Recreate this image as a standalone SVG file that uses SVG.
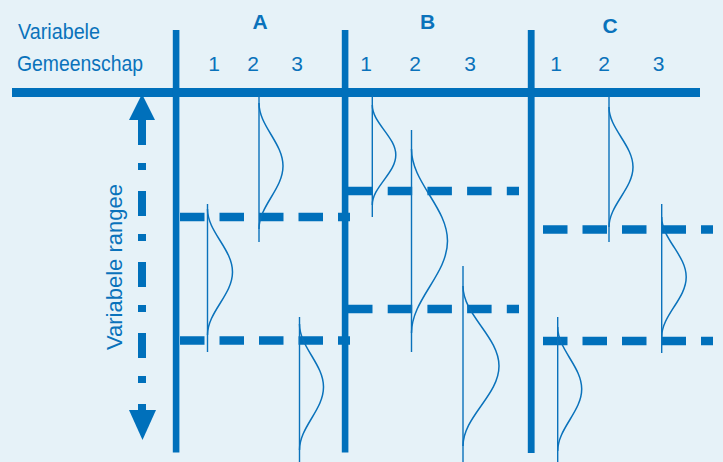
<svg xmlns="http://www.w3.org/2000/svg" width="723" height="462" viewBox="0 0 723 462">
  <style>
    .lbl { font-family: "Liberation Sans", Arial, sans-serif; fill: #0a72bb; }
    .big { font-size: 22px; }
    .head { font-size: 21px; font-weight: bold; text-anchor: middle; }
    .num { font-size: 21px; text-anchor: middle; }
    .bar { fill: #0070bb; }
    .rng { stroke: #0070bb; stroke-width: 8.5; fill: none; stroke-dasharray: 24.5 15; }
    .base { stroke: #0a72bb; stroke-width: 1.4; fill: none; }
    .bell { stroke: #0a72bb; stroke-width: 1.5; fill: none; stroke-linejoin: round; }
  </style>

  <!-- background -->
  <rect x="0" y="0" width="723" height="462" fill="#e6f2f8"/>

  <!-- header texts -->
  <g id="labels">
    <text class="lbl big" x="18" y="38.5" textLength="82" lengthAdjust="spacingAndGlyphs">Variabele</text>
    <text class="lbl big" x="17" y="70.5" textLength="126" lengthAdjust="spacingAndGlyphs">Gemeenschap</text>
    <text class="lbl head" x="260" y="28.5">A</text>
    <text class="lbl head" x="427.5" y="28.5">B</text>
    <text class="lbl head" x="610" y="32.5">C</text>
    <text class="lbl num" x="214" y="70.5">1</text>
    <text class="lbl num" x="253" y="70.5">2</text>
    <text class="lbl num" x="297" y="70.5">3</text>
    <text class="lbl num" x="366" y="70.5">1</text>
    <text class="lbl num" x="415" y="70.5">2</text>
    <text class="lbl num" x="470" y="70.5">3</text>
    <text class="lbl num" x="556" y="70.5">1</text>
    <text class="lbl num" x="604" y="70.5">2</text>
    <text class="lbl num" x="658.5" y="70.5">3</text>
    <text class="lbl" font-size="22" transform="translate(121.5 350) rotate(-90)">Variabele rangee</text>
  </g>

  <!-- frame bars -->
  <g id="grid">
    <rect class="bar" x="12" y="88" width="688" height="9"/>
    <rect class="bar" x="172.8" y="30" width="6.6" height="422.5"/>
    <rect class="bar" x="341.8" y="30" width="6.6" height="422.5"/>
    <rect class="bar" x="527.8" y="30" width="6.8" height="423"/>
  </g>

  <!-- vertical range arrow -->
  <g id="range-arrow">
    <line x1="142" y1="120" x2="142" y2="410" stroke="#0070bb" stroke-width="8" stroke-dasharray="25 18 7 21"/>
    <polygon class="bar" points="142,94 155,120 129,120"/>
    <polygon class="bar" points="129,410 156,410 142.5,440"/>
  </g>

  <!-- dashed range limits -->
  <g id="ranges">
    <line class="rng" x1="180" y1="217" x2="350" y2="217"/>
    <line class="rng" x1="180" y1="340.5" x2="350" y2="340.5"/>
    <line class="rng" x1="348" y1="191" x2="519" y2="191" style="stroke-dasharray:24.5 15.2"/>
    <line class="rng" x1="348" y1="309" x2="519" y2="309" style="stroke-dasharray:24.5 15.2"/>
    <line class="rng" x1="543" y1="229.5" x2="713" y2="229.5"/>
    <line class="rng" x1="543" y1="341" x2="713" y2="341"/>
  </g>

  <!-- distributions per column -->
  <g id="dist-A1">
    <line class="base" x1="207.5" y1="204" x2="207.5" y2="352"/>
    <path class="bell" d="M207.5,209 c0,11.6 6.25,21.5 12.5,31.5 c6.25,10 12.5,19.9 12.5,31.5 c0,11.6 -6.25,21.5 -12.5,31.5 c-6.25,10 -12.5,19.9 -12.5,31.5"/>
  </g>
  <g id="dist-A2">
    <line class="base" x1="259" y1="95" x2="259" y2="242"/>
    <path class="bell" d="M259,103 c0,11.6 6,21.5 12,31.5 c6,10 12,19.9 12,31.5 c0,11.6 -6,21.5 -12,31.5 c-6,10 -12,19.9 -12,31.5"/>
  </g>
  <g id="dist-A3">
    <line class="base" x1="299.5" y1="317" x2="299.5" y2="462"/>
    <path class="bell" d="M299.5,324 c0,11.6 6,21.5 12,31.5 c6,10 12,19.9 12,31.5 c0,11.6 -6,21.5 -12,31.5 c-6,10 -12,19.9 -12,31.5"/>
  </g>
  <g id="dist-B1">
    <line class="base" x1="372.3" y1="95" x2="372.3" y2="217"/>
    <path class="bell" d="M372.3,105 c0,9.2 5.9,17 11.75,25 c5.9,8 11.75,15.8 11.75,25 c0,9.2 -5.9,17 -11.75,25 c-5.9,8 -11.75,15.8 -11.75,25"/>
  </g>
  <g id="dist-B2">
    <line class="base" x1="411.5" y1="130" x2="411.5" y2="352"/>
    <path class="bell" d="M411.5,149 c0,16.9 9,31.4 18,46 c9,14.6 18,29.1 18,46 c0,16.9 -9,31.4 -18,46 c-9,14.6 -18,29.1 -18,46"/>
  </g>
  <g id="dist-B3">
    <line class="base" x1="463" y1="266" x2="463" y2="462"/>
    <path class="bell" d="M463,286 c0,14.7 9,27.3 18,40 c9,12.7 18,25.3 18,40 c0,14.7 -9,27.3 -18,40 c-9,12.7 -18,25.3 -18,40"/>
  </g>
  <g id="dist-C1">
    <line class="base" x1="557.7" y1="317" x2="557.7" y2="462"/>
    <path class="bell" d="M557.7,327 c0,11.4 6,21.1 12,31 c6,9.9 12,19.6 12,31 c0,11.4 -6,21.1 -12,31 c-6,9.9 -12,19.6 -12,31"/>
  </g>
  <g id="dist-C2">
    <line class="base" x1="609" y1="96" x2="609" y2="242"/>
    <path class="bell" d="M609,107 c0,11 6,20.5 12,30 c6,9.5 12,19 12,30 c0,11 -6,20.5 -12,30 c-6,9.5 -12,19 -12,30"/>
  </g>
  <g id="dist-C3">
    <line class="base" x1="661.7" y1="204" x2="661.7" y2="353"/>
    <path class="bell" d="M661.7,217 c0,11 6.1,20.5 12.25,30 c6.1,9.5 12.25,19 12.25,30 c0,11 -6.1,20.5 -12.25,30 c-6.1,9.5 -12.25,19 -12.25,30"/>
  </g>
</svg>
